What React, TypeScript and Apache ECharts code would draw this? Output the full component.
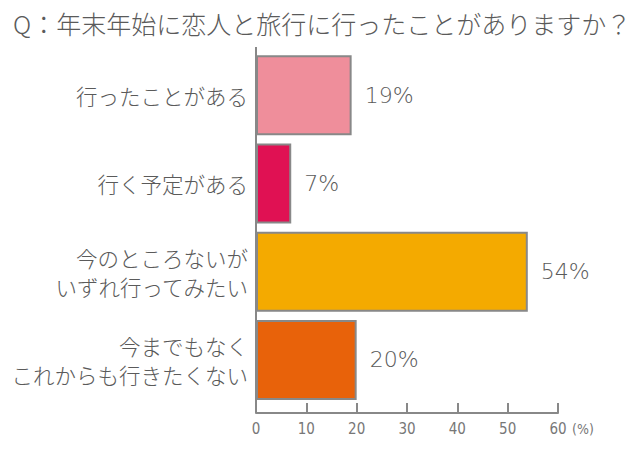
import React, { useEffect, useRef } from "react";
import * as echarts from "echarts";

const categories = [
  "行ったことがある",
  "行く予定がある",
  "今のところないが\nいずれ行ってみたい",
  "今までもなく\nこれからも行きたくない",
];
const values = [19, 7, 54, 20];
const barColors = ["#EF8E9B", "#E01153", "#F4AA00", "#E8620A"];
const titleText = "Q：年末年始に恋人と旅行に行ったことがありますか？";
const unitText = "(%)";

export default function App() {
  const ref = useRef<HTMLDivElement>(null);
  useEffect(() => {
    if (!ref.current) return;
    const chart = echarts.init(ref.current, undefined, { renderer: "svg" });
    const jp = "'Noto Sans CJK JP', 'Noto Sans', sans-serif";
    chart.setOption({
      animation: false,
      backgroundColor: "#ffffff",
      title: {
        text: titleText,
        left: 8,
        top: 5,
        textStyle: { fontFamily: jp, fontSize: 25, fontWeight: 300, color: "#5a5a5a" },
      },
      grid: { left: 256, right: 82, top: 51, bottom: 47, containLabel: false },
      xAxis: {
        type: "value",
        min: 0,
        max: 60,
        interval: 10,
        offset: 9,
        splitLine: { show: false },
        axisLine: { show: true, lineStyle: { color: "#888888", width: 2 } },
        axisTick: { show: true, inside: true, length: 10, lineStyle: { color: "#888888", width: 2 } },
        axisLabel: {
          margin: 8,
          fontSize: 15,
          color: "#777777",
          fontFamily: "'Liberation Sans Narrow', 'DejaVu Sans Condensed', sans-serif",
        },
      },
      yAxis: {
        type: "category",
        data: categories,
        inverse: true,
        axisLine: { show: false },
        axisTick: { show: false },
        axisLabel: {
          margin: 8,
          fontSize: 21.5,
          lineHeight: 29,
          fontWeight: 300,
          color: "#5a5a5a",
          fontFamily: jp,
          align: "right",
        },
      },
      graphic: [
        {
          type: "line",
          shape: { x1: 256, y1: 47, x2: 256, y2: 413 },
          style: { stroke: "#888888", lineWidth: 2 },
          z: 10,
        },
        {
          type: "text",
          x: 572,
          y: 429,
          style: {
            text: unitText,
            fontSize: 14,
            fill: "#777777",
            fontFamily: "'Liberation Sans Narrow', 'DejaVu Sans Condensed', sans-serif",
            verticalAlign: "middle",
          },
        },
      ],
      series: [
        {
          type: "bar",
          data: values.map((v, i) => ({
            value: v,
            itemStyle: { color: barColors[i] },
          })),
          barWidth: 80,
          itemStyle: { borderColor: "#888888", borderWidth: 2 },
          label: {
            show: true,
            position: "right",
            distance: 13,
            formatter: "{c}%",
            fontSize: 22,
            fontWeight: 200,
            color: "#5a5a5a",
            fontFamily: "'DejaVu Sans', sans-serif",
          },
        },
      ],
    });
    return () => chart.dispose();
  }, []);
  return <div ref={ref} style={{ width: 640, height: 451, position: "absolute", left: 0, top: 0 }} />;
}
